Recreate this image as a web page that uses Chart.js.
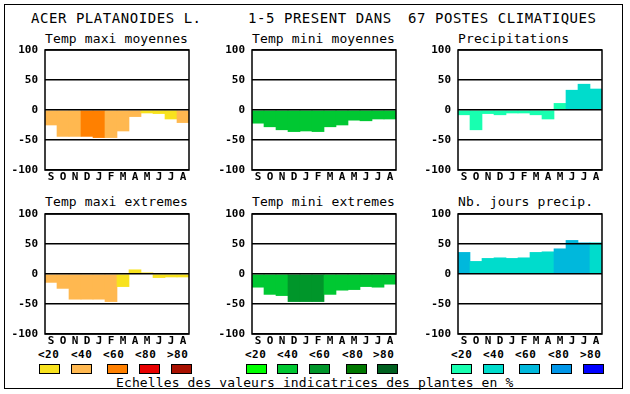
<!DOCTYPE html>
<html>
<head>
<meta charset="utf-8">
<script src="https://cdn.jsdelivr.net/npm/chart.js@4.4.1/dist/chart.umd.min.js"></script>
<style>
  html, body { margin: 0; padding: 0; background: #fff; }
  #wrap { position: relative; width: 630px; height: 394px; overflow: hidden; font-family: "DejaVu Sans Mono", monospace; color: #000; }
  #frame { position: absolute; left: 4px; top: 4px; width: 617px; height: 383px; border: 1.5px solid #000; }
  .txt { position: absolute; white-space: pre; }
  .title { font-size: 14px; line-height: 14px; letter-spacing: 0.55px; }
  .sub { font-size: 13px; line-height: 13px; letter-spacing: 0.12px; }
  .lab { font-size: 11px; line-height: 11px; font-weight: bold; letter-spacing: 0.5px; }
  .box { position: absolute; width: 19px; height: 8px; border: 1px solid #000; }
  canvas { position: absolute; }
</style>
</head>
<body>
<div id="wrap">
  <div id="frame"></div>
</div>
<script>
// ---------- Data ----------
const months = ["S", "O", "N", "D", "J", "F", "M", "A", "M", "J", "J", "A"];
const yTicks = [-100, -50, 0, 50, 100];
const scaleLabels = ["<20", "<40", "<60", "<80", ">80"];

const warmColors = ["#f8e21e", "#ffb850", "#ff8000", "#e80000", "#a81000"];
const greenColors = ["#00ff00", "#00c832", "#00962a", "#007800", "#006020"];
const blueColors = ["#18ffb0", "#00dccc", "#00b8dc", "#0096e8", "#0000ff"];

// values in % and class index (0..4) per month
const maxiMoy = [-25, -44, -44, -44, -46, -46, -35, -11, -5, -6, -15, -21];
const maxiMoyClass = [1, 1, 1, 2, 2, 1, 1, 1, 0, 0, 0, 1];

const miniMoy = [-22, -28, -33, -36, -35, -36, -28, -25, -17, -18, -15, -15];
const miniMoyClass = [1, 1, 1, 1, 1, 1, 1, 1, 1, 1, 1, 1];

const precip = [-8, -33, -6, -8, -5, -5, -8, -15, 11, 33, 43, 35];
const precipClass = [0, 0, 0, 0, 0, 0, 0, 0, 0, 1, 1, 1];

const maxiExt = [-14, -24, -42, -42, -42, -46, -21, 7, 2, -6, -5, -5];
const maxiExtClass = [1, 1, 1, 1, 1, 1, 0, 0, 0, 0, 0, 0];

const miniExt = [-22, -34, -36, -46, -46, -46, -34, -27, -26, -21, -22, -17];
const miniExtClass = [1, 1, 1, 2, 2, 2, 1, 1, 1, 1, 1, 1];

const joursPrecip = [36, 21, 26, 27, 26, 27, 36, 37, 42, 56, 52, 52];
const joursPrecipClass = [2, 1, 1, 1, 1, 1, 1, 1, 2, 2, 2, 1];

// ---------- Layout ----------
// plot area is 144 x 120; canvas = 45 (y labels) + 144 + 6, 14 (top) + 120 + 20 (x labels)
const PAD_TOP = 14;

const panels = [
  { title: "Temp maxi moyennes", data: maxiMoy, cls: maxiMoyClass, pal: warmColors, x: 45, y: 50 },
  { title: "Temp mini moyennes", data: miniMoy, cls: miniMoyClass, pal: greenColors, x: 252, y: 50 },
  { title: "Precipitations", data: precip, cls: precipClass, pal: blueColors, x: 458, y: 50 },
  { title: "Temp maxi extremes", data: maxiExt, cls: maxiExtClass, pal: warmColors, x: 45, y: 214 },
  { title: "Temp mini extremes", data: miniExt, cls: miniExtClass, pal: greenColors, x: 252, y: 214 },
  { title: "Nb. jours precip.", data: joursPrecip, cls: joursPrecipClass, pal: blueColors, x: 458, y: 214 },
];

const legendRows = [
  { pal: warmColors, labelX: [38, 71, 103, 135, 167], boxX: [39, 71, 107, 139, 171] },
  { pal: greenColors, labelX: [245, 277, 309, 342, 373], boxX: [246, 277, 309, 346, 377] },
  { pal: blueColors, labelX: [451, 483, 515, 548, 580], boxX: [451, 483, 519, 551, 583] },
];

const wrap = document.getElementById("wrap");

function addText(cls, text, left, top) {
  const d = document.createElement("div");
  d.className = "txt " + cls;
  d.textContent = text;
  d.style.left = left + "px";
  d.style.top = top + "px";
  wrap.appendChild(d);
}

// headings
addText("title", "ACER PLATANOIDES L.", 31, 11.3);
addText("title", "1-5 PRESENT DANS", 248, 11.3);
addText("title", "67 POSTES CLIMATIQUES", 408, 11.3);
addText("sub", "Echelles des valeurs indicatrices des plantes en %", 116, 375.5);

// legend scales
for (const row of legendRows) {
  row.labelX.forEach((lx, i) => addText("lab", scaleLabels[i], lx, 349));
  row.boxX.forEach((bx, i) => {
    const b = document.createElement("div");
    b.className = "box";
    b.style.left = bx + "px";
    b.style.top = "364px";
    b.style.background = row.pal[i];
    wrap.appendChild(b);
  });
}

// frame around each plot area
const framePlugin = {
  id: "plotFrame",
  afterDraw(chart) {
    const { ctx, chartArea: a } = chart;
    ctx.save();
    ctx.strokeStyle = "#000";
    ctx.lineWidth = 1.5;
    ctx.strokeRect(a.left, a.top, a.right - a.left, a.bottom - a.top);
    ctx.restore();
  },
};

const tickFont = { family: "DejaVu Sans Mono", size: 11, weight: "bold" };

// ---------- Charts ----------
for (const p of panels) {
  addText("sub", p.title, p.x, p.y === 50 ? 31.7 : 195.4);

  const canvas = document.createElement("canvas");
  canvas.width = 195;
  canvas.height = PAD_TOP + 120 + 20;
  canvas.style.left = (p.x - 45) + "px";
  canvas.style.top = (p.y - PAD_TOP) + "px";
  wrap.appendChild(canvas);

  const chart = new Chart(canvas.getContext("2d"), {
    type: "bar",
    data: {
      labels: months,
      datasets: [{
        data: p.data,
        backgroundColor: p.cls.map((c) => p.pal[c]),
        borderWidth: 0,
        barPercentage: 1,
        categoryPercentage: 1,
      }],
    },
    options: {
      responsive: false,
      maintainAspectRatio: false,
      animation: false,
      events: [],
      layout: { padding: { top: PAD_TOP, right: 6, left: 0, bottom: 0 } },
      plugins: { legend: { display: false }, tooltip: { enabled: false } },
      scales: {
        x: {
          grid: { display: false, drawTicks: false },
          border: { display: false },
          ticks: { color: "#000", font: tickFont, padding: 1, autoSkip: false, maxRotation: 0 },
          afterFit: (s) => { s.height = 20; },
        },
        y: {
          min: -100,
          max: 100,
          afterBuildTicks: (s) => { s.ticks = yTicks.map((v) => ({ value: v })); },
          grid: { color: "#000", lineWidth: 1.5, drawTicks: false, z: 1 },
          border: { display: false },
          ticks: { color: "#000", font: tickFont, padding: 7 },
          afterFit: (s) => { s.width = 45; },
        },
      },
    },
    plugins: [framePlugin],
  });

  // place the canvas so that the plot area lands where the reference has it
  const a = chart.chartArea;
  canvas.style.left = (p.x - a.left) + "px";
  canvas.style.top = (p.y - a.top) + "px";
}
</script>
</body>
</html>
